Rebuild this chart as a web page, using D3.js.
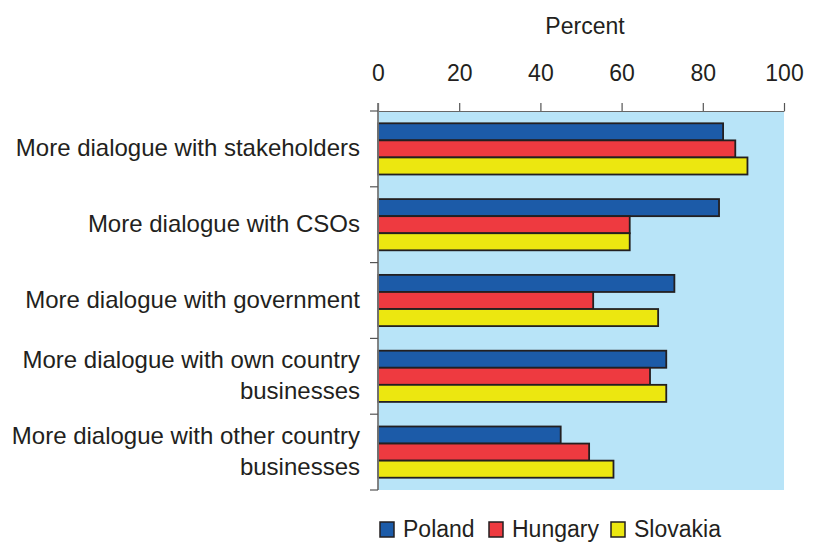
<!DOCTYPE html>
<html>
<head>
<meta charset="utf-8">
<script src="https://cdn.jsdelivr.net/npm/d3@7"></script>
<style>
  html, body { margin: 0; padding: 0; background: #fff; }
  svg { display: block; }
  text { font-family: "Liberation Sans", Arial, Helvetica, sans-serif; fill: #231f20; }
</style>
</head>
<body>
<svg id="chart" width="819" height="543"></svg>
<script>
// Survey categories (label lines) and share of respondents per country
const categories = [
  ["More dialogue with stakeholders"],
  ["More dialogue with CSOs"],
  ["More dialogue with government"],
  ["More dialogue with own country", "businesses"],
  ["More dialogue with other country", "businesses"]
];
const series = ["Poland", "Hungary", "Slovakia"];
const poland   = [85, 84, 73, 71, 45];
const hungary  = [88, 62, 53, 67, 52];
const slovakia = [91, 62, 69, 71, 58];
const xTicks = [0, 20, 40, 60, 80, 100];
const axisTitle = "Percent";

const colors = { Poland: "#1c5ba8", Hungary: "#ee3a40", Slovakia: "#ece710" };
const values = { Poland: poland, Hungary: hungary, Slovakia: slovakia };

const svg = d3.select("#chart");
const margin = { left: 378, right: 35, top: 111, bottom: 53 };
const W = 819, H = 543;
const fontSize = 23;
const labelSize = 24;

const x = d3.scaleLinear().domain([0, 100]).range([margin.left, W - margin.right]);
const y = d3.scaleBand().domain(d3.range(categories.length)).range([margin.top, H - margin.bottom]);
const inner = d3.scaleBand().domain(series).range([0, y.bandwidth()]).paddingOuter(0.72).paddingInner(0);

// plot background
svg.append("rect")
  .attr("x", x(0)).attr("y", margin.top)
  .attr("width", x(100) - x(0)).attr("height", y.range()[1] - margin.top)
  .attr("fill", "#b8e4f8");

// bars
const groups = svg.append("g").selectAll("g")
  .data(categories.map((c, i) => i))
  .join("g")
  .attr("transform", i => `translate(0,${y(i)})`);

groups.selectAll("rect")
  .data(i => series.map(s => ({ s, v: values[s][i] })))
  .join("rect")
  .attr("x", x(0))
  .attr("y", d => inner(d.s))
  .attr("width", d => x(d.v) - x(0))
  .attr("height", inner.bandwidth())
  .attr("fill", d => colors[d.s])
  .attr("stroke", "#231f20")
  .attr("stroke-width", 1.8);

// top axis
const topAxis = svg.append("g")
  .attr("transform", `translate(0,${margin.top})`)
  .call(d3.axisTop(x).tickValues(xTicks).tickSize(8).tickPadding(22).tickSizeOuter(0));
topAxis.select(".domain").attr("stroke", "#666").attr("stroke-width", 1.2);
topAxis.selectAll(".tick line").attr("stroke", "#555").attr("stroke-width", 1.2);
topAxis.selectAll(".tick text")
  .style("font-family", '"Liberation Sans", Arial, sans-serif')
  .attr("font-size", fontSize).attr("fill", "#231f20");

// left axis with ticks at band boundaries
const leftAxis = svg.append("g");
leftAxis.append("line")
  .attr("x1", x(0)).attr("x2", x(0))
  .attr("y1", margin.top - 8).attr("y2", y.range()[1])
  .attr("stroke", "#777").attr("stroke-width", 1.8);
const bounds = d3.range(categories.length + 1).map(i => margin.top + i * y.step());
leftAxis.selectAll("line.tk")
  .data(bounds)
  .join("line")
  .attr("class", "tk")
  .attr("x1", x(0) - 8).attr("x2", x(0))
  .attr("y1", d => d).attr("y2", d => d)
  .attr("stroke", "#555").attr("stroke-width", 1.2);

// category labels
const lineH = 31;
svg.append("g").selectAll("text")
  .data(categories.map((c, i) => ({ c, i })))
  .join("text")
  .attr("text-anchor", "end")
  .attr("font-size", labelSize)
  .each(function(d) {
    const t = d3.select(this);
    const cy = y(d.i) + y.bandwidth() / 2;
    const y0 = cy + 7 - (d.c.length - 1) * lineH / 2;
    d.c.forEach((line, k) => {
      t.append("tspan").attr("x", 360).attr("y", y0 + k * lineH).text(line);
    });
  });

// axis title
svg.append("text")
  .attr("x", (x(0) + x(100)) / 2 + 4).attr("y", 34)
  .attr("text-anchor", "middle")
  .attr("font-size", fontSize)
  .text(axisTitle);

// legend
const legendX = [380, 489, 611];
const legend = svg.append("g").selectAll("g")
  .data(series)
  .join("g")
  .attr("transform", (d, i) => `translate(${legendX[i]},522)`);
legend.append("rect")
  .attr("width", 14).attr("height", 15)
  .attr("fill", d => colors[d])
  .attr("stroke", "#231f20").attr("stroke-width", 1.5);
legend.append("text")
  .attr("x", 23).attr("y", 15)
  .attr("font-size", fontSize)
  .text(d => d);
</script>
</body>
</html>
